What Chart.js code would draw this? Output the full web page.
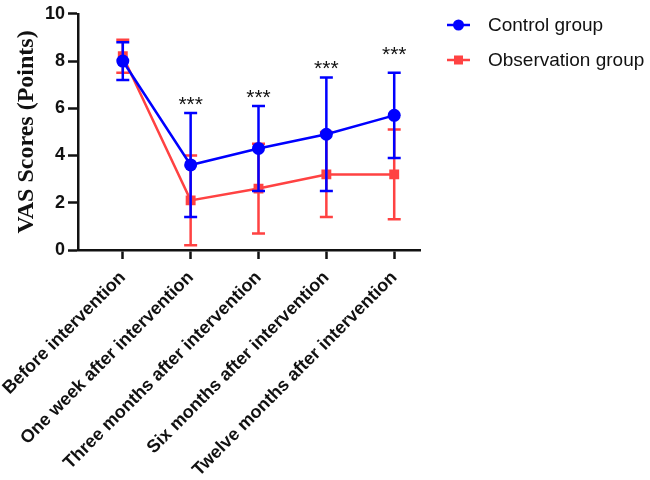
<!DOCTYPE html>
<html>
<head>
<meta charset="utf-8">
<script src="https://cdn.jsdelivr.net/npm/chart.js@4"></script>
<style>
  html, body { margin: 0; padding: 0; background: #fff; }
  #wrap { width: 650px; height: 480px; position: relative; }
</style>
</head>
<body>
<div id="wrap"><canvas id="vasChart"></canvas></div>
<script>
// categories and values
const categories = [
  'Before intervention',
  'One week after intervention',
  'Three months after intervention',
  'Six months after intervention',
  'Twelve months after intervention'
];
const controlMean = [8.0, 3.6, 4.3, 4.9, 5.7];
const controlSD = [0.8, 2.2, 1.8, 2.4, 1.8];
const observationMean = [8.2, 2.1, 2.6, 3.2, 3.2];
const observationSD = [0.7, 1.9, 1.9, 1.8, 1.9];
const significance = ['', '***', '***', '***', '***'];
const sigLevel = [null, 6.4, 6.7, 7.9, 8.5];
const yTicks = [0, 2, 4, 6, 8, 10];

const BLUE = '#0000ff';
const RED = '#ff4242';
const FONT = '"Liberation Sans", Arial, sans-serif';

// error bars drawn right before each dataset so line/marker layering matches
const errorBars = {
  id: 'errorBars',
  beforeDatasetDraw(chart, args) {
    const ds = chart.data.datasets[args.index];
    const y = chart.scales.y;
    const ctx = chart.ctx;
    ctx.save();
    ctx.strokeStyle = ds.borderColor;
    ctx.lineWidth = 2.5;
    args.meta.data.forEach((pt, i) => {
      const m = ds.data[i].y, sd = ds.sd[i];
      const top = y.getPixelForValue(m + sd);
      const bot = y.getPixelForValue(m - sd);
      ctx.beginPath();
      ctx.moveTo(pt.x, top); ctx.lineTo(pt.x, bot);
      ctx.moveTo(pt.x - 6.5, top); ctx.lineTo(pt.x + 6.5, top);
      ctx.moveTo(pt.x - 6.5, bot); ctx.lineTo(pt.x + 6.5, bot);
      ctx.stroke();
    });
    ctx.restore();
  }
};

// asterisks + legend with line-through-marker swatches
const extras = {
  id: 'extras',
  afterDraw(chart) {
    const ctx = chart.ctx;
    const xs = chart.scales.x, ys = chart.scales.y;
    ctx.save();
    ctx.fillStyle = '#111';
    ctx.font = '21px ' + FONT;
    ctx.textAlign = 'center';
    ctx.textBaseline = 'alphabetic';
    significance.forEach((s, i) => {
      if (!s) return;
      ctx.fillText(s, xs.getPixelForValue(i), ys.getPixelForValue(sigLevel[i]) + 12);
    });

    const rows = [
      { ds: chart.data.datasets[0], y: 25 },
      { ds: chart.data.datasets[1], y: 60 }
    ];
    rows.forEach(r => {
      ctx.strokeStyle = r.ds.borderColor;
      ctx.lineWidth = 2.5;
      ctx.beginPath();
      ctx.moveTo(447, r.y); ctx.lineTo(470, r.y);
      ctx.stroke();
      ctx.fillStyle = r.ds.borderColor;
      if (r.ds.pointStyle === 'circle') {
        ctx.beginPath(); ctx.arc(458.5, r.y, 5.5, 0, Math.PI * 2); ctx.fill();
      } else {
        ctx.fillRect(454, r.y - 4.5, 9, 9);
      }
      ctx.fillStyle = '#111';
      ctx.font = '19px ' + FONT;
      ctx.textAlign = 'left';
      ctx.textBaseline = 'middle';
      ctx.fillText(r.ds.label, 488, r.y + 1);
    });
    ctx.restore();
  }
};

new Chart(document.getElementById('vasChart'), {
  type: 'line',
  data: {
    datasets: [
      {
        label: 'Control group',
        data: controlMean.map((v, i) => ({ x: i, y: v })),
        sd: controlSD,
        borderColor: BLUE,
        backgroundColor: BLUE,
        borderWidth: 2.5,
        pointStyle: 'circle',
        pointRadius: 6.5,
        pointBorderWidth: 0
      },
      {
        label: 'Observation group',
        data: observationMean.map((v, i) => ({ x: i, y: v })),
        sd: observationSD,
        borderColor: RED,
        backgroundColor: RED,
        borderWidth: 2.5,
        pointStyle: 'rect',
        pointRadius: 7,
        pointBorderWidth: 0
      }
    ]
  },
  options: {
    responsive: true,
    maintainAspectRatio: false,
    animation: false,
    layout: { padding: { top: 10, right: 230, left: 0, bottom: 0 } },
    plugins: { legend: { display: false }, tooltip: { enabled: false } },
    scales: {
      x: {
        type: 'linear',
        min: -0.66,
        max: 4.38,
        afterBuildTicks: s => { s.ticks = categories.map((_, i) => ({ value: i })); },
        afterFit: s => { s.height = 230; s.paddingLeft = 0; s.paddingRight = 0; },
        border: { color: '#111', width: 2.5 },
        grid: { drawOnChartArea: false, drawTicks: true, tickLength: 9, tickWidth: 2.5, tickColor: '#111' },
        ticks: {
          autoSkip: false,
          maxRotation: 45,
          minRotation: 45,
          padding: 8,
          color: '#111',
          font: { family: FONT, size: 18, weight: 'bold' },
          callback: v => categories[v]
        }
      },
      y: {
        min: 0,
        max: 10,
        afterBuildTicks: s => { s.ticks = yTicks.map(v => ({ value: v })); },
        afterFit: s => { s.width = 78; },
        border: { color: '#111', width: 2.5 },
        grid: { drawOnChartArea: false, drawTicks: true, tickLength: 10, tickWidth: 2.5, tickColor: '#111' },
        ticks: {
          padding: 3,
          color: '#111',
          font: { family: FONT, size: 18, weight: 'bold' }
        },
        title: {
          display: true,
          text: 'VAS Scores (Points)',
          color: '#111',
          padding: { top: 12, bottom: 0 },
          font: { family: '"Liberation Serif", "Times New Roman", serif', size: 24, weight: 'bold' }
        }
      }
    }
  },
  plugins: [errorBars, extras]
});
</script>
</body>
</html>
